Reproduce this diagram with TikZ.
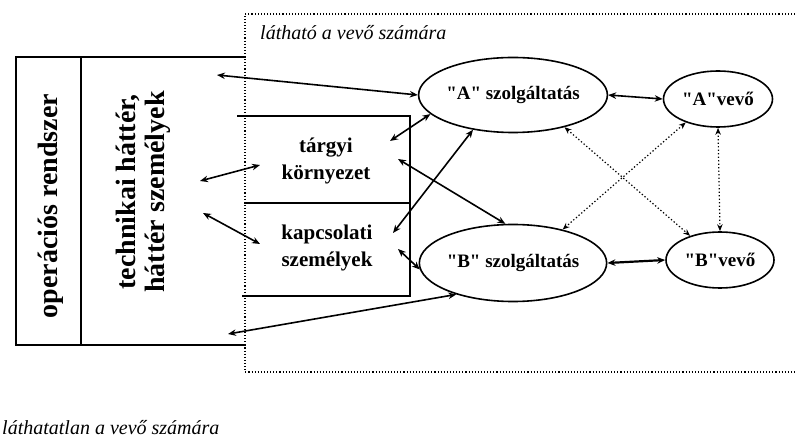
\documentclass[tikz,border=0pt]{standalone}
\usepackage{fontspec}
\setmainfont{Liberation Serif}[Ligatures=TeXOff]
\usetikzlibrary{shapes.geometric,arrows.meta}
\tikzset{
  frame/.style={line width=2.4pt, line cap=rect},
  thin frame/.style={line width=1.8pt},
  visline/.style={line width=1.2pt, dash pattern=on 1.1pt off 2pt},
  ell/.style={ellipse, draw, line width=1.6pt, inner sep=0pt, font=\fontsize{19}{21}\selectfont\bfseries},
  arr/.style={{Stealth[length=8pt,width=6.5pt]}-{Stealth[length=8pt,width=6.5pt]}, line width=1.6pt},
  darr/.style={{Stealth[length=7pt,width=5.5pt]}-{Stealth[length=7pt,width=5.5pt]}, line width=1.2pt, dash pattern=on 1.3pt off 2.2pt},
  boxtext/.style={align=center, font=\fontsize{21}{27}\selectfont\bfseries, inner sep=0pt},
  rottext/.style={align=center, rotate=90, font=\fontsize{28}{29}\selectfont\bfseries, inner sep=0pt},
  itlabel/.style={font=\fontsize{20}{22}\selectfont\itshape, inner sep=0pt, anchor=west}
}
\begin{document}
\begin{tikzpicture}[x=1pt,y=-1pt]
\useasboundingbox (0,0) rectangle (795,438);
% visible region (dotted)
\draw[visline] (795,14) -- (245,14) -- (245,372) -- (795,372);
\node[itlabel] (lvis) at (260,33) {látható a vevő számára};
\node[itlabel] (linv) at (2,428) {láthatatlan a vevő számára};
% left frame
\draw[frame] (245,57) -- (16,57) -- (16,345) -- (245,345);
\draw[thin frame] (81,57) -- (81,345);
\node[rottext] (op) at (51,206) {operációs rendszer};
\node[rottext] (tech) at (143,192) {technikai háttér,\\háttér személyek};
% boxes
\draw[frame] (238,116) -- (410,116) -- (410,296) -- (243,296);
\draw[frame] (245,203) -- (410,203);
\node[boxtext] (targy) at (326,161) {tárgyi\\környezet};
\node[boxtext] (kapcs) at (327,248) {kapcsolati\\személyek};
% ellipses
\node[ell, minimum width=140pt, minimum height=75pt] (As) at (513,95) {"A" szolgáltatás};
\node[ell, minimum width=109pt, minimum height=56pt] (Av) at (718,99) {"A"vevő};
\node[ell, minimum width=140pt, minimum height=77pt] (Bs) at (513,263) {"B" szolgáltatás};
\node[ell, minimum width=108pt, minimum height=56pt] (Bv) at (720,260) {"B"vevő};
% free ends
\coordinate (t1) at (217,75);
\coordinate (t2) at (390,141);
\coordinate (t3) at (200,181);
\coordinate (t4) at (260,165);
\coordinate (t5) at (203,213);
\coordinate (t6) at (260,244);
\coordinate (k1) at (393,233);
\coordinate (t7) at (398,159);
\coordinate (k2) at (398,249);
\coordinate (t8) at (228,334);
% connectors
\draw[arr] (t1) -- (As.west);
\draw[arr] (t2) -- (As.193);
\draw[arr] (t3) -- (t4);
\draw[arr] (t5) -- (t6);
\draw[arr] (k1) -- (As.221);
\draw[arr] (t7) -- (Bs.101);
\draw[arr] (k2) -- (Bs.184);
\draw[arr] (t8) -- (Bs.209);
\draw[arr] (As.east) -- (Av.west);
\draw[arr, line width=2.2pt] (Bs.east) -- (Bv.west);
\draw[darr] (As.328) -- (Bv.141);
\draw[darr] (Av.216) -- (Bs.34);
\draw[darr] (Av.south) -- (Bv.north);
\end{tikzpicture}
\end{document}
